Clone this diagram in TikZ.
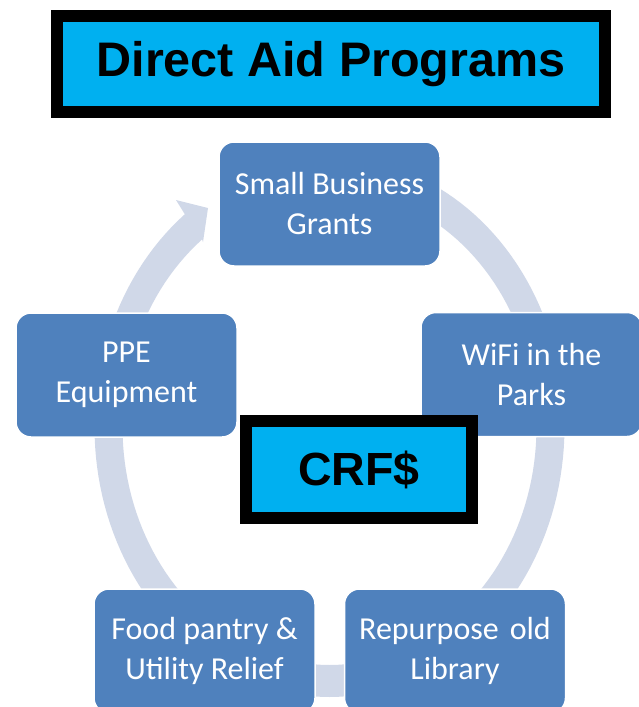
\documentclass[tikz,border=0pt]{standalone}
\usepackage{fontspec}
\setmainfont{Liberation Sans}
\newfontfamily\carlito{Carlito}
\definecolor{cyanbox}{HTML}{00B0F0}
\definecolor{progblue}{HTML}{4F81BD}
\definecolor{ringcol}{HTML}{D0D8E8}
\begin{document}
\begin{tikzpicture}[x=1pt,y=-1pt,
  prog/.style={draw=white, line width=1.5pt, fill=progblue, rounded corners=15pt,
    minimum width=221pt, minimum height=124pt, inner sep=0pt, align=center,
    text=white, font=\carlito\fontsize{32}{40}\selectfont},
  banner/.style={draw=black, line width=12pt, fill=cyanbox, inner sep=0pt,
    font=\bfseries\fontsize{48.5}{56}\selectfont}]
\clip (0,0) rectangle (639,707);
\fill[white] (0,0) rectangle (639,707);
% continuous cycle ring with arrow head
\fill[ringcol]
  plot[domain=100:-232, samples=160, variable=\t] ({329.5+235*cos(\t)},{427-270*sin(\t)})
  -- (176,200) -- (208,208) -- (203,242)
  -- plot[domain=-232:100, samples=160, variable=\t] ({329.5+207*cos(\t)},{427-238*sin(\t)})
  -- cycle;
% program boxes
\node[prog] (sbg)  at (329.5,204)   {Small Business\\Grants};
\node[prog] (wifi) at (531.5,374.5) {WiFi in the\\Parks};
\node[prog] (ppe)  at (126.5,375)   {PPE\\Equipment};
\node[prog] (food) at (204.5,651)   {Food pantry \&\\Utility Relief};
\node[prog] (lib)  at (455,651)     {Repurpose\hspace{11pt}old\\Library};
% banners
\node[banner, minimum width=548pt, minimum height=96pt] (title) at (331,64) {Direct Aid Programs};
\node[banner, minimum width=226pt, minimum height=97pt,
  font=\bfseries\fontsize{46.5}{56}\selectfont] (crf) at (359,469.5) {CRF\$};
\end{tikzpicture}
\end{document}
